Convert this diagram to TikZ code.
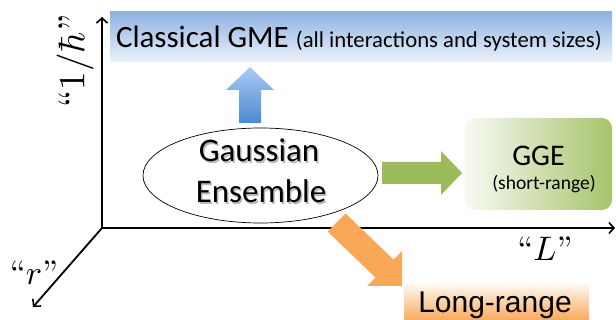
\documentclass[tikz,border=0pt]{standalone}
\usepackage{fontspec}
\newfontfamily\calibrif{Carlito}
\newfontfamily\arialf{Liberation Sans}
\usetikzlibrary{arrows.meta,shapes.geometric}
\definecolor{bluetop}{RGB}{141,178,226}
\definecolor{bluebot}{RGB}{236,242,251}
\definecolor{arrtop}{RGB}{170,204,245}
\definecolor{arrbot}{RGB}{76,136,210}
\definecolor{ggeg}{RGB}{166,196,106}
\definecolor{ggel}{RGB}{248,250,243}
\definecolor{grarrow}{RGB}{155,187,89}
\definecolor{orng}{RGB}{249,168,88}
\tikzset{
  axisline/.style={line width=1.8pt,-{Straight Barb[length=5pt,width=11pt,line width=1.6pt]}},
  plain/.style={inner sep=0pt,outer sep=0pt},
  bigtxt/.style={plain,font=\calibrif\fontsize{33}{33}\selectfont},
  txtshadow/.style={bigtxt,text=black,opacity=0.28},
  mathlbl/.style={plain,font=\fontsize{10}{12}\selectfont}
}
\begin{document}
\begin{tikzpicture}[x=1pt,y=-1pt]
\useasboundingbox (0,0) rectangle (616,320);

% axes
\coordinate (O) at (102,228);
\coordinate (ytip) at (102,17);
\coordinate (xtip) at (615,228);
\coordinate (rtip) at (33,307);
\draw[axisline] (O) -- (ytip);
\draw[axisline] (O) -- (xtip);
\draw[axisline] (O) -- (rtip);

% axis labels
\node[mathlbl,rotate=90,scale=3.7] (hlbl) at (75,61) {``$1/\hbar$''};
\node[mathlbl,scale=3.4] (llbl) at (545,249) {``$L$''};
\node[mathlbl,scale=3.4] (rlbl) at (34,273) {``$r$''};

% classical GME box
\node[plain,anchor=north west,minimum width=502pt,minimum height=50pt,
      top color=bluetop,bottom color=bluebot] (cgme) at (110,12) {};
\node[plain,anchor=base west] (cgmetxt) at (116,48)
  {\calibrif\fontsize{31}{31}\selectfont Classical GME \fontsize{22.7}{22.7}\selectfont(all interactions and system sizes)};

% blue up arrow
\shade[top color=arrtop,bottom color=arrbot]
  (250,67) -- (274,90) -- (261,90) -- (261,123) -- (239,123) -- (239,90) -- (226,90) -- cycle;

% Gaussian ensemble ellipse
\node[ellipse,draw,fill=white,line width=0.7pt,minimum width=235pt,minimum height=95pt,inner sep=0pt] (ge) at (260.5,175.5) {};
\node[txtshadow,anchor=base] (gashadow) at (260.5,163.5) {Gaussian};
\node[txtshadow,anchor=base] (enshadow) at (262.5,204.5) {Ensemble};
\node[bigtxt,anchor=base] (gatxt) at (259,162) {Gaussian};
\node[bigtxt,anchor=base] (entxt) at (261,203) {Ensemble};

% green right arrow
\fill[grarrow] (382,162) -- (441,162) -- (441,151) -- (462,173) -- (441,195) -- (441,184) -- (382,184) -- cycle;

% GGE box
\node[plain,anchor=north west,rounded corners=10pt,minimum width=147pt,minimum height=92pt,
      left color=ggel,right color=ggeg] (gge) at (465,118) {};
\node[plain,anchor=base,font=\calibrif\fontsize{30}{30}\selectfont] (ggetxt) at (538.5,166) {GGE};
\node[plain,anchor=base,font=\calibrif\fontsize{19.5}{19.5}\selectfont] (srtxt) at (544,190) {(short-range)};

% orange diagonal arrow
\fill[orng] (327.5,231.5) -- (345.5,213.5) -- (393.5,259.5) -- (402,251) -- (402,286) -- (367,286) -- (375.5,277.5) -- cycle;

% Long-range box
\node[plain,anchor=north west,minimum width=185pt,minimum height=36pt,
      top color=orng!10,bottom color=orng] (lr) at (404,285) {};
\node[plain,anchor=base,font=\arialf\fontsize{30}{30}\selectfont] (lrtxt) at (495,313) {Long-range};
\end{tikzpicture}
\end{document}
